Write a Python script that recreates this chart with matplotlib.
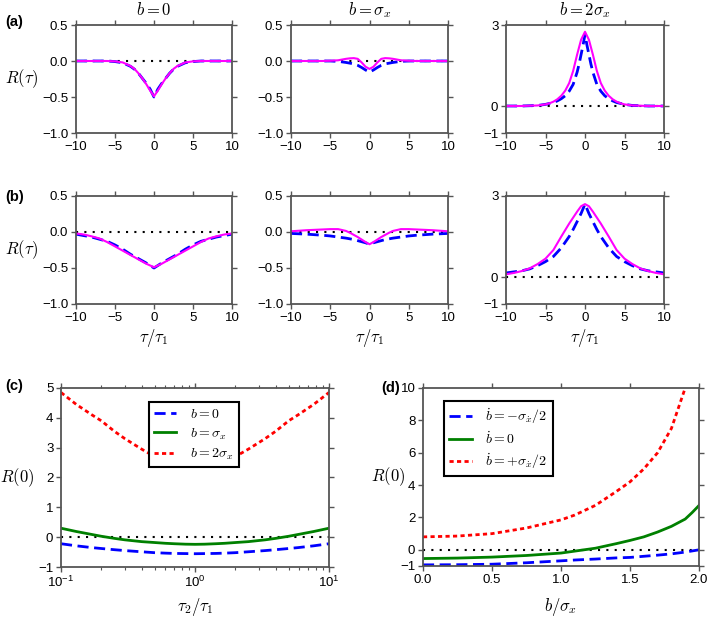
import matplotlib
matplotlib.use('Agg')
import matplotlib.pyplot as plt
from matplotlib.ticker import FixedLocator, FixedFormatter, LogLocator, NullFormatter

plt.rcParams['font.family'] = ['Liberation Sans', 'DejaVu Sans']
plt.rcParams['mathtext.fontset'] = 'cm'
plt.rcParams['axes.unicode_minus'] = True

# ---- row (a): tau grids and curves ----
tau_a_mag1 = [-10, -8, -6, -5, -4, -3, -2.5, -2, -1.5, -1, -0.5, 0, 0.5, 1, 1.5, 2, 2.5, 3, 4, 5, 6, 8, 10]
a1_mag = [0, 0, 0, -0.005, -0.02, -0.07, -0.11, -0.17, -0.24, -0.32, -0.41, -0.49,
          -0.41, -0.32, -0.24, -0.17, -0.11, -0.07, -0.02, -0.005, 0, 0, 0]
a1_blue = [0, 0, 0, -0.008, -0.025, -0.075, -0.115, -0.17, -0.24, -0.31, -0.39, -0.5,
           -0.39, -0.31, -0.24, -0.17, -0.115, -0.075, -0.025, -0.008, 0, 0, 0]

tau_a2 = [-10, -8, -6, -5, -4, -3, -2.5, -2, -1.5, -1, -0.5, 0, 0.5, 1, 1.5, 2, 2.5, 3, 4, 5, 6, 8, 10]
a2_mag = [0, 0, 0, 0.003, 0.01, 0.03, 0.037, 0.04, 0.03, -0.02, -0.08, -0.11,
          -0.08, -0.02, 0.03, 0.04, 0.037, 0.03, 0.01, 0.003, 0, 0, 0]
a2_blue = [0, 0, 0, 0, -0.005, -0.02, -0.03, -0.04, -0.06, -0.09, -0.125, -0.155,
           -0.125, -0.09, -0.06, -0.04, -0.03, -0.02, -0.005, 0, 0, 0, 0]

tau_a3_mag = [-10, -8, -6, -5, -4.5, -4, -3.5, -3, -2.5, -2, -1.5, -1, -0.5, 0,
              0.5, 1, 1.5, 2, 2.5, 3, 3.5, 4, 4.5, 5, 6, 8, 10]
a3_mag = [0, 0, 0.02, 0.06, 0.1, 0.16, 0.25, 0.38, 0.57, 0.85, 1.3, 1.9, 2.45, 2.75,
          2.45, 1.9, 1.3, 0.85, 0.57, 0.38, 0.25, 0.16, 0.1, 0.06, 0.02, 0, 0]
tau_a3_blue = [-10, -8, -6, -5, -4, -3.5, -3, -2.5, -2, -1.5, -1, -0.75, -0.5, -0.25, 0,
               0.25, 0.5, 0.75, 1, 1.5, 2, 2.5, 3, 3.5, 4, 5, 6, 8, 10]
a3_blue = [0, 0, 0.02, 0.06, 0.13, 0.19, 0.27, 0.38, 0.55, 0.8, 1.25, 1.55, 1.9, 2.25, 2.65,
           2.25, 1.9, 1.55, 1.25, 0.8, 0.55, 0.38, 0.27, 0.19, 0.13, 0.06, 0.02, 0, 0]

# ---- row (b) ----
tau_b = [-10, -9, -8, -7, -6, -5, -4, -3, -2, -1, 0, 1, 2, 3, 4, 5, 6, 7, 8, 9, 10]
b1_mag = [-0.02, -0.035, -0.06, -0.09, -0.14, -0.2, -0.26, -0.32, -0.38, -0.44, -0.49,
          -0.44, -0.38, -0.32, -0.26, -0.2, -0.14, -0.09, -0.06, -0.035, -0.02]
b1_blue = [-0.03, -0.05, -0.07, -0.1, -0.13, -0.18, -0.24, -0.31, -0.37, -0.43, -0.5,
           -0.43, -0.37, -0.31, -0.24, -0.18, -0.13, -0.1, -0.07, -0.05, -0.03]

tau_b2 = [-10, -8, -6, -5, -4, -3, -2.5, -2, -1.5, -1, -0.5, 0, 0.5, 1, 1.5, 2, 2.5, 3, 4, 5, 6, 8, 10]
b2_mag = [0.01, 0.025, 0.035, 0.04, 0.04, 0.015, -0.01, -0.04, -0.07, -0.105, -0.14, -0.17,
          -0.14, -0.105, -0.07, -0.04, -0.01, 0.015, 0.04, 0.04, 0.035, 0.025, 0.01]
b2_blue = [-0.02, -0.03, -0.045, -0.055, -0.07, -0.085, -0.095, -0.105, -0.12, -0.135, -0.15, -0.17,
           -0.15, -0.135, -0.12, -0.105, -0.095, -0.085, -0.07, -0.055, -0.045, -0.03, -0.02]

tau_b3 = [-10, -9, -8, -7, -6, -5, -4, -3, -2, -1.5, -1, -0.5, 0,
          0.5, 1, 1.5, 2, 3, 4, 5, 6, 7, 8, 9, 10]
b3_mag = [0.1, 0.15, 0.22, 0.32, 0.48, 0.68, 1.0, 1.5, 1.98, 2.2, 2.42, 2.62, 2.7,
          2.62, 2.42, 2.2, 1.98, 1.5, 1.0, 0.68, 0.48, 0.32, 0.22, 0.15, 0.1]
b3_blue = [0.15, 0.19, 0.23, 0.3, 0.42, 0.57, 0.76, 1.08, 1.5, 1.76, 2.05, 2.35, 2.7,
           2.35, 2.05, 1.76, 1.5, 1.08, 0.76, 0.57, 0.42, 0.3, 0.23, 0.19, 0.15]

# ---- panel (c) ----
ratio_c = [0.1, 0.13, 0.17, 0.2, 0.25, 0.3, 0.4, 0.5, 0.6, 0.7, 0.85, 1.0,
           1.18, 1.43, 1.67, 2.0, 2.5, 3.33, 4.0, 5.0, 5.88, 7.69, 10]
c_b0 = [-0.22, -0.29, -0.35, -0.38, -0.42, -0.45, -0.49, -0.52, -0.535, -0.545, -0.55, -0.555,
        -0.55, -0.545, -0.535, -0.52, -0.49, -0.45, -0.42, -0.38, -0.35, -0.29, -0.22]
c_b1 = [0.3, 0.19, 0.09, 0.03, -0.04, -0.09, -0.15, -0.18, -0.205, -0.22, -0.235, -0.24,
        -0.235, -0.22, -0.205, -0.18, -0.15, -0.09, -0.04, 0.03, 0.09, 0.19, 0.3]
c_b2 = [4.85, 4.45, 4.1, 3.9, 3.55, 3.3, 2.95, 2.7, 2.57, 2.48, 2.4, 2.37,
        2.4, 2.48, 2.57, 2.7, 2.95, 3.3, 3.55, 3.9, 4.1, 4.45, 4.85]

# ---- panel (d) ----
b_d = [0, 0.25, 0.5, 0.75, 1.0, 1.1, 1.25, 1.4, 1.5, 1.6, 1.7, 1.8, 1.9, 1.95, 2.0]
d_minus = [-0.93, -0.92, -0.89, -0.8, -0.68, -0.63, -0.57, -0.5, -0.47, -0.4, -0.33, -0.25, -0.14, -0.07, 0.0]
d_zero = [-0.54, -0.51, -0.45, -0.35, -0.2, -0.08, 0.1, 0.38, 0.58, 0.8, 1.1, 1.45, 1.9, 2.3, 2.74]
d_plus = [0.8, 0.85, 1.0, 1.35, 1.85, 2.15, 2.75, 3.6, 4.2, 5.0, 6.0, 7.5, 10.0, 11.5, 13.0]

BLUE = '#0000ff'
MAG = '#ff00ff'
GREEN = '#008000'
RED = '#ff0000'
SPINE = '#555555'
FS = 9.5

fig = plt.figure(figsize=(7.09, 6.18), dpi=100)
W, H = 709.0, 618.0


def add_axes(l, r, t, b):
    return fig.add_axes([l / W, (H - b) / H, (r - l) / W, (b - t) / H])


def style(ax):
    for s in ax.spines.values():
        s.set_color(SPINE)
        s.set_linewidth(1.3)
    ax.tick_params(direction='out', length=3.5, width=1.0, color=SPINE,
                   top=True, right=True, labelsize=FS, pad=2)
    ax.tick_params(which='minor', direction='out', length=2, width=0.8, color=SPINE,
                   top=True, right=True)


def blue_line(ax, x, y, **kw):
    ax.plot(x, y, color=BLUE, lw=2.0, dashes=(4, 2), **kw)


cols = [(76, 232), (291, 448), (506, 664)]
rows = [(25, 133), (196, 304)]
row_data = [
    [(tau_a_mag1, a1_mag, tau_a_mag1, a1_blue),
     (tau_a2, a2_mag, tau_a2, a2_blue),
     (tau_a3_mag, a3_mag, tau_a3_blue, a3_blue)],
    [(tau_b, b1_mag, tau_b, b1_blue),
     (tau_b2, b2_mag, tau_b2, b2_blue),
     (tau_b3, b3_mag, tau_b3, b3_blue)],
]
titles = [r'$b=0$', r'$b=\sigma_x$', r'$b=2\sigma_x$']

for i, (t, b) in enumerate(rows):
    for j, (l, r) in enumerate(cols):
        ax = add_axes(l, r, t, b)
        style(ax)
        tm, ym, tb, yb = row_data[i][j]
        ax.plot([-10, 10], [0, 0], color='black', lw=1.5, ls=(0, (1, 3)))
        blue_line(ax, tb, yb)
        ax.plot(tm, ym, color=MAG, lw=1.5)
        ax.set_xlim(-10, 10)
        ax.set_xticks([-10, -5, 0, 5, 10])
        if j < 2:
            ax.set_ylim(-1.0, 0.5)
            ax.set_yticks([-1.0, -0.5, 0.0, 0.5])
            ax.set_yticklabels(['\u22121.0', '\u22120.5', '0.0', '0.5'])
        else:
            ax.set_ylim(-1, 3)
            ax.set_yticks([-1, 0, 3])
        ax.set_xticklabels(['\u221210', '\u22125', '0', '5', '10'])
        if i == 0:
            ax.text(0.5, 1.14, titles[j], transform=ax.transAxes, ha='center',
                    va='center', fontsize=12)
        else:
            ax.set_xlabel(r'$\tau/\tau_1$', fontsize=12)
            ax.xaxis.set_label_coords(0.5, -0.315)
            ax.xaxis.label.set_va('center')
        if j == 0:
            ax.set_ylabel(r'$R(\tau)$', fontsize=12, rotation=0, ha='right', va='center')
            ax.yaxis.set_label_coords(-0.245, 0.5)

fig.text(5 / W, (H - 22) / H, '(a)', fontsize=10.5, fontweight='bold', va='center')
fig.text(5 / W, (H - 197) / H, '(b)', fontsize=10.5, fontweight='bold', va='center')

# ---- (c) ----
axc = add_axes(61, 329, 388, 567)
style(axc)
axc.set_xscale('log')
axc.plot([0.1, 10], [0, 0], color='black', lw=1.5, ls=(0, (1, 3)))
axc.plot(ratio_c, c_b0, color=BLUE, lw=2.0, dashes=(4, 2), label=r'$b=0$')
axc.plot(ratio_c, c_b1, color=GREEN, lw=2.0, label=r'$b=\sigma_x$')
axc.plot(ratio_c, c_b2, color=RED, lw=2.0, dashes=(1.5, 1.2), label=r'$b=2\sigma_x$')
axc.set_xlim(0.1, 10)
axc.set_ylim(-1, 5)
axc.set_yticks([-1, 0, 1, 2, 3, 4, 5])
axc.set_yticklabels(['\u22121', '0', '1', '2', '3', '4', '5'])
axc.xaxis.set_major_locator(FixedLocator([0.1, 1, 10]))
axc.xaxis.set_major_formatter(FixedFormatter([r'$\mathregular{10^{-1}}$',
                                              r'$\mathregular{10^{0}}$',
                                              r'$\mathregular{10^{1}}$']))
axc.xaxis.set_minor_locator(LogLocator(base=10, subs=range(2, 10)))
axc.xaxis.set_minor_formatter(NullFormatter())
axc.set_xlabel(r'$\tau_2/\tau_1$', fontsize=12)
axc.xaxis.set_label_coords(0.5, -0.223)
axc.xaxis.label.set_va('center')
axc.set_ylabel(r'$R(0)$', fontsize=12, rotation=0, ha='right', va='center')
axc.yaxis.set_label_coords(-0.1, 0.5)
legc = axc.legend(loc='upper center', bbox_to_anchor=(0.496, 0.962), fontsize=10,
                  fancybox=False, framealpha=1, edgecolor='black', handlelength=1.6,
                  handletextpad=1.0, borderpad=0.4, labelspacing=0.35)
legc.get_frame().set_linewidth(1.5)
fig.text(5 / W, (H - 386) / H, '(c)', fontsize=10.5, fontweight='bold', va='center')

# ---- (d) ----
axd = add_axes(423, 699, 388, 566)
style(axd)
axd.plot([0, 2], [0, 0], color='black', lw=1.5, ls=(0, (1, 3)))
axd.plot(b_d, d_minus, color=BLUE, lw=2.0, dashes=(4, 2), label=r'$\dot b=-\sigma_{\dot x}/2$')
axd.plot(b_d, d_zero, color=GREEN, lw=2.0, label=r'$\dot b=0$')
axd.plot(b_d, d_plus, color=RED, lw=2.0, dashes=(1.5, 1.2), label=r'$\dot b=+\sigma_{\dot x}/2$')
axd.set_xlim(0, 2)
axd.set_ylim(-1, 10)
axd.set_xticks([0.0, 0.5, 1.0, 1.5, 2.0])
axd.set_xticklabels(['0.0', '0.5', '1.0', '1.5', '2.0'])
axd.set_yticks([-1, 0, 2, 4, 6, 8, 10])
axd.set_yticklabels(['\u22121', '0', '2', '4', '6', '8', '10'])
axd.set_xlabel(r'$b/\sigma_x$', fontsize=12)
axd.xaxis.set_label_coords(0.5, -0.23)
axd.xaxis.label.set_va('center')
axd.set_ylabel(r'$R(0)$', fontsize=12, rotation=0, ha='right', va='center')
axd.yaxis.set_label_coords(-0.065, 0.5)
legd = axd.legend(loc='upper left', bbox_to_anchor=(0.05, 0.966), fontsize=10,
                  fancybox=False, framealpha=1, edgecolor='black', handlelength=1.6,
                  handletextpad=1.0, borderpad=0.4, labelspacing=0.35)
legd.get_frame().set_linewidth(1.5)
fig.text(381 / W, (H - 388) / H, '(d)', fontsize=10.5, fontweight='bold', va='center')

fig.savefig('out.png', dpi=100)
